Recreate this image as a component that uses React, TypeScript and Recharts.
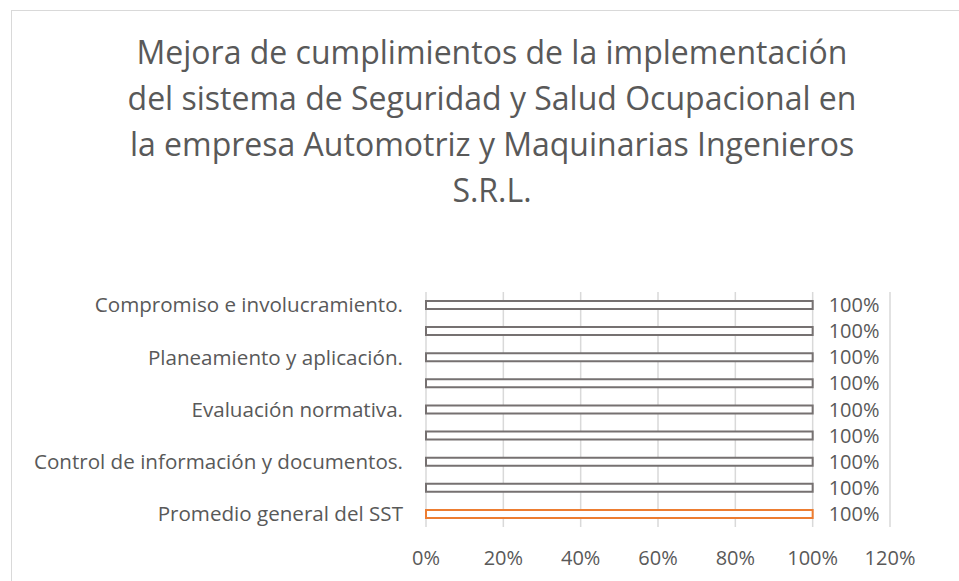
import React from 'react';
import { BarChart, Bar, XAxis, YAxis, CartesianGrid, LabelList, Cell } from 'recharts';

const categories = [
  'Compromiso e involucramiento.',
  'Política de seguridad y salud ocupacional.',
  'Planeamiento y aplicación.',
  'Implementación y operación.',
  'Evaluación normativa.',
  'Verificación.',
  'Control de información y documentos.',
  'Revisión por la dirección.',
  'Promedio general del SST',
];
const cumplimiento = [1, 1, 1, 1, 1, 1, 1, 1, 1];
const xTicks = [0, 0.2, 0.4, 0.6, 0.8, 1, 1.2];
const titleLines = [
  'Mejora de cumplimientos de la implementación',
  'del sistema de Seguridad y Salud Ocupacional en',
  'la empresa Automotriz y Maquinarias Ingenieros',
  'S.R.L.',
];

const GRAY = '#595959';
const FONT = '"Open Sans", sans-serif';

const rows = categories.map((name, i) => ({ name, value: cumplimiento[i] }));
const pct = (v: any) => `${Math.round(Number(v) * 100)}%`;

export default function App() {
  return (
    <div style={{ position: 'absolute', left: 0, top: 0, width: 959, height: 581, overflow: 'hidden', background: '#fff', fontFamily: FONT }}>
      <div style={{ position: 'absolute', left: 11, top: 10, width: 1000, height: 700, border: '1px solid #d9d9d9' }} />
      <div style={{ position: 'absolute', left: 11, top: 29, width: 962, textAlign: 'center', color: GRAY, fontSize: 32, lineHeight: '46px' }}>
        {titleLines.map((t) => <div key={t}>{t}</div>)}
      </div>
      <div style={{ position: 'absolute', left: 0, top: 0 }}>
        <BarChart width={959} height={581} data={rows} layout="vertical" barSize={8}
          margin={{ top: 292, right: 69, bottom: 4, left: 0 }}>
          <CartesianGrid horizontal={false} stroke="#d9d9d9" strokeWidth={1.5} />
          <XAxis type="number" domain={[0, 1.2]} ticks={xTicks} tickFormatter={pct} axisLine={false} tickLine={false}
            tickSize={0} tickMargin={24} height={50} tick={{ fill: GRAY, fontSize: 20, fontFamily: FONT }} />
          <YAxis type="category" dataKey="name" width={426} interval={1} axisLine={false} tickLine={false}
            tickSize={0} tickMargin={23} tick={{ fill: GRAY, fontSize: 20.6, fontFamily: FONT }} />
          <Bar dataKey="value" fill="#ffffff" strokeWidth={2} isAnimationActive={false}>
            {rows.map((r, i) => (
              <Cell key={r.name} stroke={i === rows.length - 1 ? '#ed7d31' : '#767171'} fill="#ffffff" />
            ))}
            <LabelList dataKey="value" position="right" offset={16} formatter={pct} fill={GRAY} fontSize={20} fontFamily={FONT} />
          </Bar>
        </BarChart>
      </div>
    </div>
  );
}
